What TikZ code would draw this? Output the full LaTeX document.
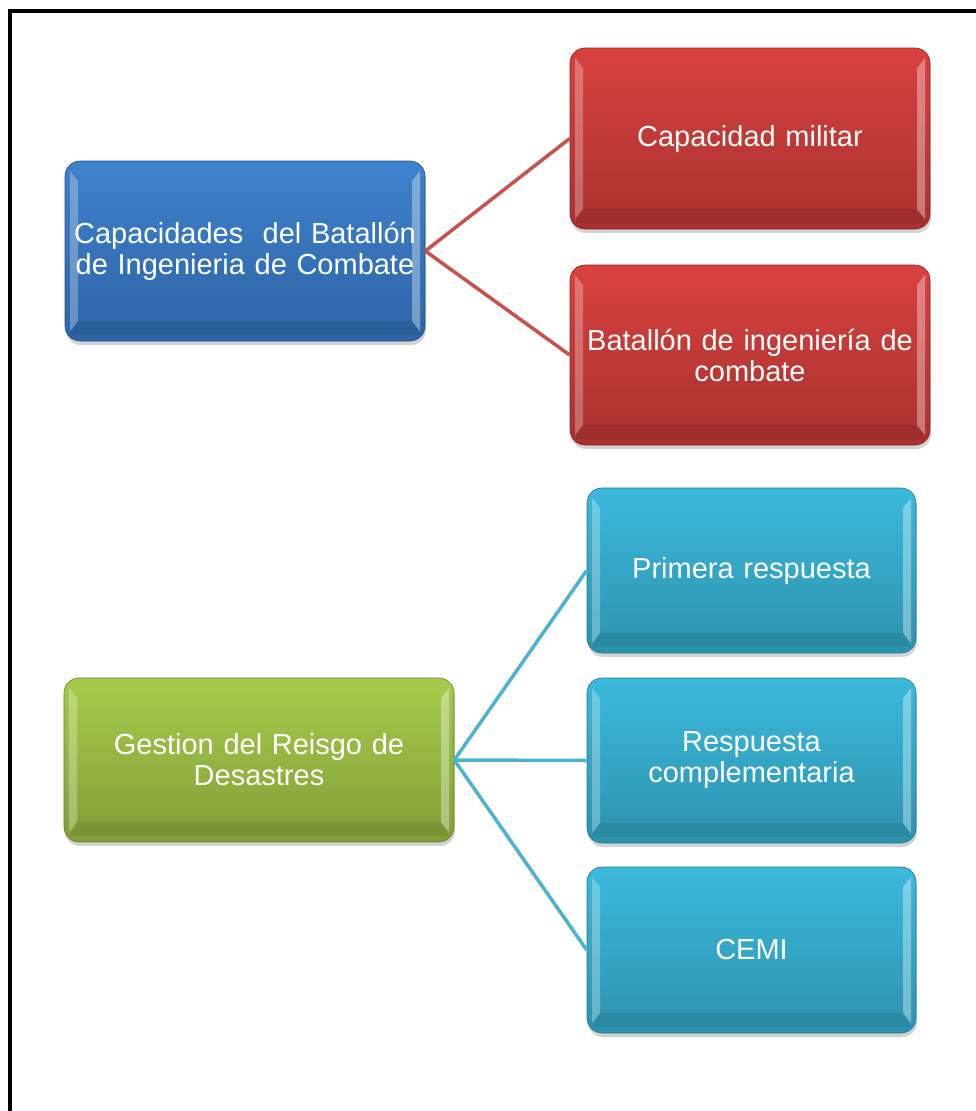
\documentclass[tikz,border=0pt]{standalone}
\usepackage{fontspec}
\setmainfont{Liberation Sans}
\usetikzlibrary{shadows}
\definecolor{bluetop}{HTML}{3F82CC}
\definecolor{bluebot}{HTML}{2D64A6}
\definecolor{redtop}{HTML}{D8423F}
\definecolor{redbot}{HTML}{A8302E}
\definecolor{greentop}{HTML}{A6CC4C}
\definecolor{greenbot}{HTML}{829E37}
\definecolor{cyantop}{HTML}{3CB9DC}
\definecolor{cyanbot}{HTML}{2C92AE}
\definecolor{redline}{HTML}{C8504D}
\definecolor{cyanline}{HTML}{4BB3CF}
\tikzset{
  cbox/.style={rounded corners=15pt, align=center, text=white, inner sep=2pt,
    font=\fontsize{29}{31}\selectfont,
    drop shadow={opacity=0.35, shadow xshift=1pt, shadow yshift=-4pt},
    path picture={
      \fill[sharp corners,white,opacity=0.28] ([xshift=5pt,yshift=-10pt]path picture bounding box.north west)
        -- ([xshift=13pt,yshift=-20pt]path picture bounding box.north west)
        -- ([xshift=13pt,yshift=20pt]path picture bounding box.south west)
        -- ([xshift=5pt,yshift=10pt]path picture bounding box.south west) -- cycle;
      \fill[sharp corners,white,opacity=0.35] ([xshift=-5pt,yshift=-10pt]path picture bounding box.north east)
        -- ([xshift=-13pt,yshift=-20pt]path picture bounding box.north east)
        -- ([xshift=-13pt,yshift=20pt]path picture bounding box.south east)
        -- ([xshift=-5pt,yshift=10pt]path picture bounding box.south east) -- cycle;
      \fill[sharp corners,black,opacity=0.08] ([xshift=13pt,yshift=20pt]path picture bounding box.south west)
        -- ([xshift=-13pt,yshift=20pt]path picture bounding box.south east)
        -- ([xshift=-5pt,yshift=6pt]path picture bounding box.south east)
        -- ([xshift=5pt,yshift=6pt]path picture bounding box.south west) -- cycle;
    }},
  bluebox/.style={cbox, top color=bluetop, bottom color=bluebot, draw=bluebot!80!black, line width=0.6pt},
  redbox/.style={cbox, top color=redtop, bottom color=redbot, draw=redbot!80!black, line width=0.6pt},
  greenbox/.style={cbox, top color=greentop, bottom color=greenbot, draw=greenbot!80!black, line width=0.6pt},
  cyanbox/.style={cbox, top color=cyantop, bottom color=cyanbot, draw=cyanbot!80!black, line width=0.6pt},
  redlink/.style={draw=redline, line width=3.5pt},
  cyanlink/.style={draw=cyanline, line width=3.5pt},
  frameline/.style={draw=black, line width=4.5pt}
}
\begin{document}
\begin{tikzpicture}[x=1pt,y=-1pt]
\useasboundingbox (0,0) rectangle (976,1111);
\coordinate (ftr) at (976,11);
\coordinate (ftl) at (10,11);
\coordinate (fbl) at (10,1111);
\draw[frameline] (ftr) -- (ftl) -- (fbl);

\node[bluebox, minimum width=360pt, minimum height=180pt, text width=352pt] (cap) at (245,251)
  {Capacidades\ \ del Batallón\\de Ingenieria de Combate};
\node[redbox, minimum width=360pt, minimum height=181pt, text width=352pt] (mil) at (750,138.5)
  {Capacidad militar};
\node[redbox, minimum width=360pt, minimum height=180pt, text width=352pt] (bat) at (750,355)
  {Batallón de ingeniería de\\combate};

\node[greenbox, minimum width=390pt, minimum height=164pt, text width=380pt] (ges) at (259,760)
  {Gestion del Reisgo de\\Desastres};
\node[cyanbox, minimum width=329pt, minimum height=165pt, text width=320pt] (pri) at (751.5,570.5)
  {Primera respuesta};
\node[cyanbox, minimum width=329pt, minimum height=165pt, text width=320pt] (com) at (751.5,760.5)
  {Respuesta\\complementaria};
\node[cyanbox, minimum width=329pt, minimum height=166pt, text width=320pt] (cemi) at (751.5,950)
  {CEMI};

\draw[redlink] (cap.east) -- (mil.west);
\draw[redlink] (cap.east) -- (bat.west);
\draw[cyanlink] (ges.east) -- (pri.west);
\draw[cyanlink] (ges.east) -- (com.west);
\draw[cyanlink] (ges.east) -- (cemi.west);
\end{tikzpicture}
\end{document}
